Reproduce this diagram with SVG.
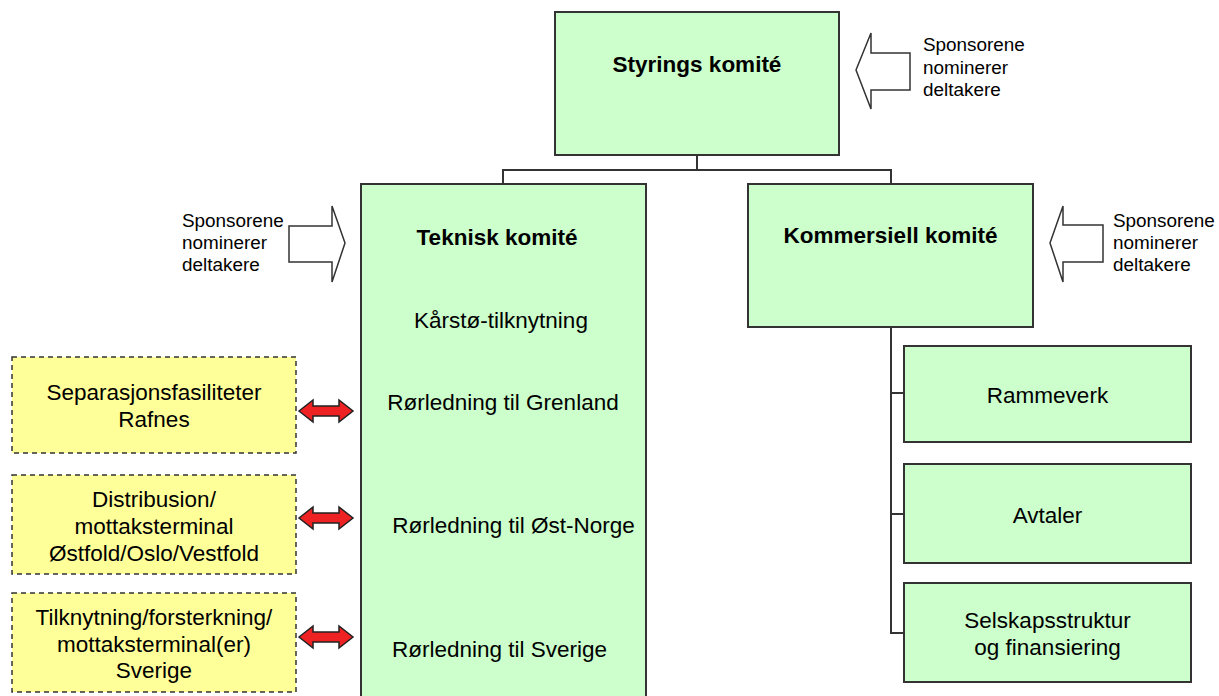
<svg xmlns="http://www.w3.org/2000/svg" width="1219" height="696" viewBox="0 0 1219 696">
  <style>
    text { font-family: "Liberation Sans", Arial, sans-serif; fill: #000; }
    .box { fill: #CCFFCC; stroke: #333; stroke-width: 2; }
    .ext { fill: #FFFF99; stroke: #333; stroke-width: 1.5; stroke-dasharray: 5 4; }
    .title { font-size: 22.5px; font-weight: bold; text-anchor: middle; }
    .lbl { font-size: 22.5px; text-anchor: middle; }
    .note { font-size: 18.9px; }
    .hollow { fill: #fff; stroke: #333; stroke-width: 1.5; }
    .link { fill: none; stroke: #333; stroke-width: 2; }
    .dbl { fill: #EE2222; stroke: #222; stroke-width: 1.5; }
  </style>
  <defs>
    <!-- red double-headed arrow, centred on the origin -->
    <polygon id="dblArrow" class="dbl" points="-27,0 -13,-11 -13,-5 13,-5 13,-11 27,0 13,11 13,5 -13,5 -13,11"/>
  </defs>

  <g id="connectors">
    <polyline class="link" points="697,155 697,170"/>
    <polyline class="link" points="503,184 503,170 891,170 891,184"/>
    <polyline class="link" points="891,327 891,633 904,633"/>
    <line class="link" x1="891" y1="393" x2="904" y2="393"/>
    <line class="link" x1="891" y1="514" x2="904" y2="514"/>
    <use href="#dblArrow" x="326" y="411"/>
    <use href="#dblArrow" x="326" y="518"/>
    <use href="#dblArrow" x="326" y="637"/>
  </g>

  <g id="styrings">
    <rect class="box" x="555" y="12" width="284" height="143"/>
    <text class="title" x="697" y="72">Styrings komité</text>
  </g>

  <g id="styrings-nominasjon">
    <polygon class="hollow" points="856,70 871,33 871,53 910,53 910,90 871,90 871,109"/>
    <text class="note" x="923" y="51">Sponsorene</text>
    <text class="note" x="923" y="73.5">nominerer</text>
    <text class="note" x="923" y="96">deltakere</text>
  </g>

  <g id="teknisk">
    <rect class="box" x="361" y="184" width="285" height="520"/>
    <text class="title" x="497" y="245">Teknisk komité</text>
    <text class="lbl" x="501" y="328">Kårstø-tilknytning</text>
    <text class="lbl" x="503" y="410">Rørledning til Grenland</text>
    <text class="lbl" x="513.5" y="533">Rørledning til Øst-Norge</text>
    <text class="lbl" x="499.5" y="657">Rørledning til Sverige</text>
  </g>

  <g id="teknisk-nominasjon">
    <polygon class="hollow" points="345,243 332,206 332,226 289,226 289,262 332,262 332,282"/>
    <text class="note" x="182" y="227">Sponsorene</text>
    <text class="note" x="182" y="249">nominerer</text>
    <text class="note" x="182" y="271">deltakere</text>
  </g>

  <g id="kommersiell">
    <rect class="box" x="748" y="184" width="285" height="143"/>
    <text class="title" x="890.5" y="243">Kommersiell komité</text>
  </g>

  <g id="kommersiell-nominasjon">
    <polygon class="hollow" points="1050,243 1063,206 1063,225 1103,225 1103,262 1063,262 1063,282"/>
    <text class="note" x="1113" y="227">Sponsorene</text>
    <text class="note" x="1113" y="249">nominerer</text>
    <text class="note" x="1113" y="271">deltakere</text>
  </g>

  <g id="rammeverk">
    <rect class="box" x="904" y="346" width="287" height="96"/>
    <text class="lbl" x="1047.5" y="403">Rammeverk</text>
  </g>

  <g id="avtaler">
    <rect class="box" x="904" y="464" width="287" height="99"/>
    <text class="lbl" x="1047.5" y="523">Avtaler</text>
  </g>

  <g id="selskapsstruktur">
    <rect class="box" x="904" y="583" width="287" height="99"/>
    <text class="lbl" x="1047.5" y="628">Selskapsstruktur</text>
    <text class="lbl" x="1047.5" y="655">og finansiering</text>
  </g>

  <g id="separasjon">
    <rect class="ext" x="12" y="357" width="284" height="96"/>
    <text class="lbl" x="154" y="400">Separasjonsfasiliteter</text>
    <text class="lbl" x="154" y="427">Rafnes</text>
  </g>

  <g id="distribusjon">
    <rect class="ext" x="12" y="475" width="284" height="99"/>
    <text class="lbl" x="154" y="507">Distribusion/</text>
    <text class="lbl" x="154" y="534">mottaksterminal</text>
    <text class="lbl" x="154" y="561">Østfold/Oslo/Vestfold</text>
  </g>

  <g id="sverige-tilknytning">
    <rect class="ext" x="12" y="593" width="284" height="99"/>
    <text class="lbl" x="154" y="625">Tilknytning/forsterkning/</text>
    <text class="lbl" x="154" y="652">mottaksterminal(er)</text>
    <text class="lbl" x="154" y="678">Sverige</text>
  </g>
</svg>
